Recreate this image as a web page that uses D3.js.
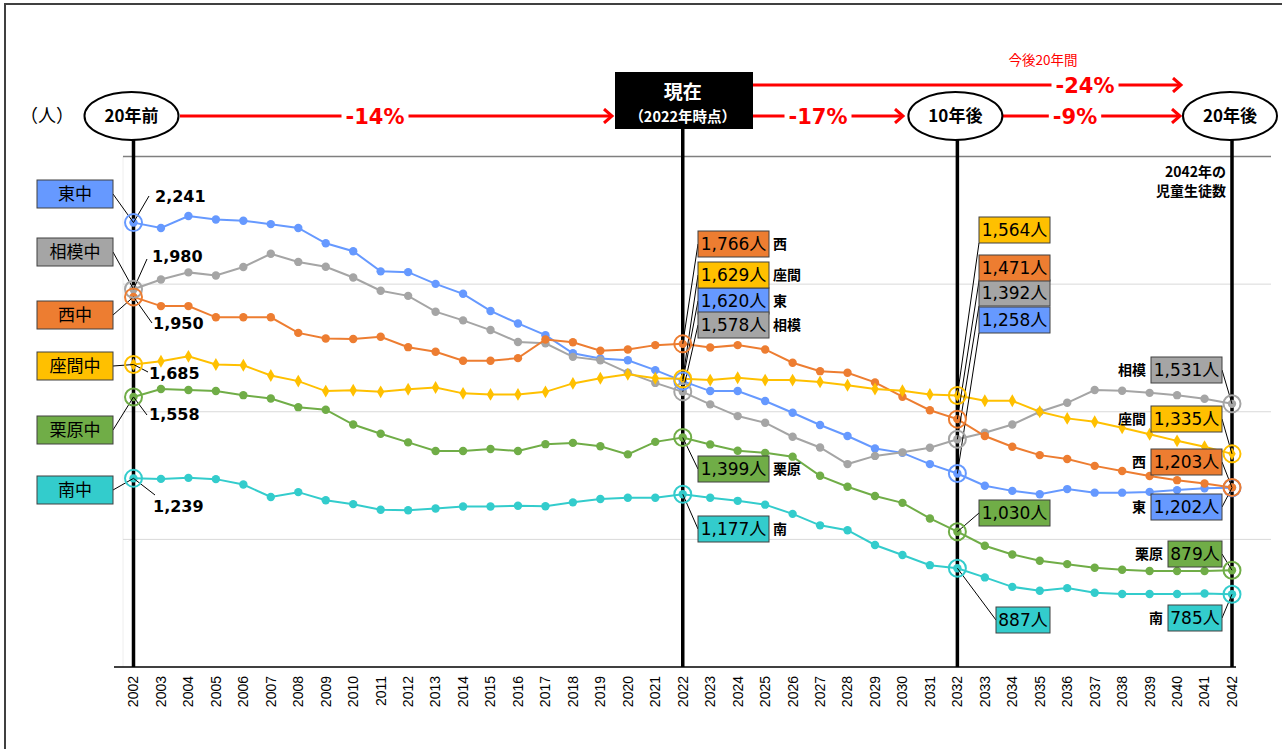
<!DOCTYPE html>
<html lang="ja">
<head>
  <meta charset="UTF-8">
  <title>児童生徒数の推移</title>
  <script src="https://d3js.org/d3.v7.min.js"></script>
  <style>
    body { margin: 0; background: #fff; }
    text { font-family: "Noto Sans CJK JP", sans-serif; }
    .num { font-family: "DejaVu Sans", "Noto Sans CJK JP", sans-serif; }
  </style>
</head>
<body>
  <svg id="chart" width="1282" height="749"></svg>
  <script>
    // data (2002 - 2042)
    const years = d3.range(2002, 2043);
    const higashi = [2241, 2220, 2267, 2253, 2248, 2235, 2220, 2160, 2129, 2050, 2047, 2001, 1962, 1895, 1846,
      1800, 1729, 1709, 1702, 1663, 1620, 1581, 1581, 1542, 1496, 1448, 1405, 1356, 1339, 1295, 1258,
      1210, 1190, 1177, 1197, 1183, 1183, 1186, 1193, 1200, 1202];
    const sagami = [1980, 2018, 2046, 2034, 2067, 2119, 2087, 2068, 2026, 1974, 1954, 1892, 1858, 1820, 1773,
      1768, 1715, 1702, 1653, 1613, 1578, 1529, 1483, 1457, 1402, 1360, 1295, 1327, 1341, 1359, 1392,
      1418, 1450, 1500, 1535, 1585, 1582, 1574, 1565, 1551, 1531];
    const nishi = [1950, 1914, 1914, 1870, 1870, 1870, 1809, 1787, 1785, 1794, 1753, 1735, 1700, 1700, 1710,
      1783, 1772, 1739, 1744, 1761, 1766, 1752, 1761, 1744, 1692, 1659, 1653, 1615, 1559, 1506, 1471,
      1405, 1363, 1330, 1315, 1288, 1268, 1248, 1232, 1219, 1203];
    const zama = [1685, 1698, 1717, 1685, 1682, 1642, 1620, 1581, 1584, 1578, 1588, 1595, 1572, 1568, 1568,
      1578, 1611, 1631, 1647, 1631, 1629, 1624, 1633, 1624, 1624, 1617, 1604, 1589, 1582, 1568, 1564,
      1543, 1543, 1500, 1474, 1461, 1437, 1412, 1386, 1363, 1335];
    const kurihara = [1558, 1589, 1585, 1581, 1565, 1552, 1518, 1508, 1450, 1414, 1380, 1346, 1346, 1354, 1346,
      1373, 1378, 1365, 1333, 1382, 1399, 1372, 1347, 1339, 1324, 1249, 1206, 1170, 1143, 1082, 1030,
      975, 941, 916, 903, 889, 881, 876, 876, 876, 879];
    const minami = [1239, 1237, 1241, 1236, 1215, 1166, 1185, 1153, 1138, 1116, 1114, 1121, 1129, 1129, 1132,
      1130, 1145, 1158, 1163, 1163, 1177, 1163, 1151, 1136, 1100, 1055, 1036, 978, 939, 899, 887,
      851, 814, 799, 809, 791, 786, 786, 786, 788, 785];

    const seriesValues = [higashi, sagami, nishi, zama, kurihara, minami];
    const schools = ['東中', '相模中', '西中', '座間中', '栗原中', '南中'];
    const shortNames = ['東', '相模', '西', '座間', '栗原', '南'];
    const colors = ['#6699ff', '#a5a5a5', '#ed7d31', '#ffc000', '#70ad47', '#33cccc'];
    const milestones = [2002, 2022, 2032, 2042];
    const milestoneLabels = ['20年前', '現在', '10年後', '20年後'];
    const changeLabels = ['-14%', '-17%', '-9%'];
    const totalLabel = '-24%';
    const gridValues = [2000, 1500, 1000];

    const svg = d3.select('svg#chart');
    const x = d3.scaleLinear().domain([2002, 2042]).range([133.5, 1232]);
    const y = d3.scaleLinear().domain([500, 2500]).range([667, 156.5]);
    const fmt = d3.format(',');
    const valueAt = (i, yr) => seriesValues[i][years.indexOf(yr)];

    // outer frame
    svg.append('rect')
      .attr('x', 5).attr('y', 4).attr('width', 1290).attr('height', 760)
      .attr('fill', 'none').attr('stroke', '#404040').attr('stroke-width', 2);

    // gridlines
    svg.append('line')
      .attr('x1', 123).attr('x2', 123).attr('y1', y(2500)).attr('y2', y(500))
      .attr('stroke', '#eeeeee');
    svg.selectAll('line.grid').data(gridValues).join('line')
      .attr('class', 'grid')
      .attr('x1', 123).attr('x2', 1271)
      .attr('y1', d => y(d)).attr('y2', d => y(d))
      .attr('stroke', '#d9d9d9').attr('stroke-width', 1);
    svg.append('line')
      .attr('x1', 123).attr('x2', 1271).attr('y1', y(2500)).attr('y2', y(2500))
      .attr('stroke', '#7f7f7f').attr('stroke-width', 1.5);

    // x axis
    svg.append('line')
      .attr('x1', 114).attr('x2', 1236).attr('y1', y(500)).attr('y2', y(500))
      .attr('stroke', '#000').attr('stroke-width', 1.5);
    svg.selectAll('text.year').data(years).join('text')
      .attr('class', 'year')
      .attr('transform', d => `translate(${x(d)},${y(500) + 9}) rotate(-90)`)
      .attr('dy', '0.35em')
      .attr('text-anchor', 'end')
      .style('font-family', '"Liberation Sans", Arial, sans-serif')
      .style('font-size', '14px')
      .text(d => d);

    // thick milestone lines
    svg.selectAll('line.mile').data(milestones).join('line')
      .attr('class', 'mile')
      .attr('x1', d => x(d)).attr('x2', d => x(d))
      .attr('y1', d => d === 2022 ? 128 : 140).attr('y2', y(500))
      .attr('stroke', '#000').attr('stroke-width', 3.5);

    // series lines and markers
    const line = d3.line().x((d, j) => x(years[j])).y(d => y(d));
    seriesValues.forEach((vals, i) => {
      svg.append('path')
        .attr('d', line(vals))
        .attr('fill', 'none')
        .attr('stroke', colors[i])
        .attr('stroke-width', 2);
      if (i === 3) {
        svg.selectAll(null).data(vals).join('path')
          .attr('d', d3.symbol(d3.symbolDiamond, 48))
          .attr('transform', (d, j) => `translate(${x(years[j])},${y(d)})`)
          .attr('fill', colors[i]);
      } else {
        svg.selectAll(null).data(vals).join('circle')
          .attr('cx', (d, j) => x(years[j]))
          .attr('cy', d => y(d))
          .attr('r', 4.2)
          .attr('fill', colors[i]);
      }
    });

    // leader line helper
    function leader(x1, y1, x2, y2) {
      svg.append('line')
        .attr('x1', x1).attr('y1', y1).attr('x2', x2).attr('y2', y2)
        .attr('stroke', '#000').attr('stroke-width', 1);
    }

    // 2002 : school boxes on the left and bold values
    const leftBoxTop = [180, 238, 301, 352, 416, 476];
    const leftValueEnd = [[149, 196], [147, 259], [152, 323], [148, 372], [147, 415], [155, 495]];
    const leftValueText = [[155, 202], [152, 262], [153, 329], [149, 379], [149, 420], [153, 512]];
    schools.forEach((s, i) => {
      const v = valueAt(i, 2002);
      leader(113, leftBoxTop[i] + 14, x(2002), y(v));
      leader(x(2002), y(v), leftValueEnd[i][0], leftValueEnd[i][1]);
      svg.append('rect')
        .attr('x', 37).attr('y', leftBoxTop[i]).attr('width', 76).attr('height', 28)
        .attr('fill', colors[i]).attr('stroke', '#404040').attr('stroke-width', 1);
      svg.append('text')
        .attr('x', 75).attr('y', leftBoxTop[i] + 20)
        .attr('text-anchor', 'middle')
        .style('font-size', '17px')
        .text(s);
      svg.append('text')
        .attr('class', 'num')
        .attr('x', leftValueText[i][0]).attr('y', leftValueText[i][1])
        .style('font-size', '16px').style('font-weight', 'bold')
        .text(fmt(v));
    });

    // callout boxes at 2022 / 2032 / 2042
    const boxH = 26;
    const boxW = v => v >= 1000 ? 71 : 54;
    const callout2022Top = [288, 312, 231, 262, 456, 516];
    const callout2032Top = [307, 280, 255, 217, 500, 607];
    const callout2042Top = [494, 357, 449, 406, 541, 605];

    function valueBox(bx, by, v, i) {
      svg.append('rect')
        .attr('x', bx).attr('y', by).attr('width', boxW(v)).attr('height', boxH)
        .attr('fill', colors[i]).attr('stroke', '#404040').attr('stroke-width', 1);
      svg.append('text')
        .attr('class', 'num')
        .attr('x', bx + boxW(v) / 2).attr('y', by + boxH / 2 + 6)
        .attr('text-anchor', 'middle')
        .style('font-size', '17px')
        .text(fmt(v) + '人');
    }

    schools.forEach((s, i) => {
      // 2022
      let v = valueAt(i, 2022);
      let top = callout2022Top[i];
      leader(698, top + 13, x(2022), y(v));
      // 2032
      v = valueAt(i, 2032);
      top = callout2032Top[i];
      let bx = 1050 - boxW(v);
      if (top < 400) leader(bx, top + boxH, x(2032), y(v));
      else leader(bx, top + 13, x(2032), y(v));
      // 2042
      v = valueAt(i, 2042);
      top = callout2042Top[i];
      leader(1222, top + 13, x(2042), y(v));
    });

    schools.forEach((s, i) => {
      let v = valueAt(i, 2022);
      valueBox(698, callout2022Top[i], v, i);
      svg.append('text')
        .attr('x', 773).attr('y', callout2022Top[i] + 18)
        .style('font-size', '14px').style('font-weight', 'bold')
        .text(shortNames[i]);

      v = valueAt(i, 2032);
      valueBox(1050 - boxW(v), callout2032Top[i], v, i);

      v = valueAt(i, 2042);
      const bx = 1222 - boxW(v);
      valueBox(bx, callout2042Top[i], v, i);
      svg.append('text')
        .attr('x', bx - 5).attr('y', callout2042Top[i] + 18)
        .attr('text-anchor', 'end')
        .style('font-size', '14px').style('font-weight', 'bold')
        .text(shortNames[i]);
    });

    // highlight rings on milestone years
    seriesValues.forEach((vals, i) => {
      svg.selectAll(null).data(milestones).join('circle')
        .attr('cx', d => x(d))
        .attr('cy', d => y(valueAt(i, d)))
        .attr('r', 8.5)
        .attr('fill', 'none')
        .attr('stroke', colors[i])
        .attr('stroke-width', 2);
    });

    // header: arrows, ellipses, current box
    svg.append('defs').append('marker')
      .attr('id', 'arr')
      .attr('markerUnits', 'userSpaceOnUse')
      .attr('markerWidth', 14).attr('markerHeight', 16)
      .attr('refX', 10).attr('refY', 8)
      .attr('orient', 'auto')
      .append('path')
      .attr('d', 'M2,1 L10,8 L2,15')
      .attr('fill', 'none').attr('stroke', '#ff0000').attr('stroke-width', 3);

    const arrowRow = [[180, 612, 375], [753, 903, 818], [1003, 1180, 1075]];
    function arrow(x1, x2, yy, lx, label) {
      svg.append('line')
        .attr('x1', x1).attr('x2', x2).attr('y1', yy).attr('y2', yy)
        .attr('stroke', '#ff0000').attr('stroke-width', 3)
        .attr('marker-end', 'url(#arr)');
      const t = svg.append('text')
        .attr('class', 'num')
        .attr('x', lx).attr('y', yy + 8)
        .attr('text-anchor', 'middle')
        .style('font-size', '21px').style('font-weight', 'bold')
        .attr('fill', '#ff0000')
        .text(label);
      const b = t.node().getBBox();
      svg.insert('rect', () => t.node())
        .attr('x', b.x - 4).attr('y', yy - 4).attr('width', b.width + 8).attr('height', 8)
        .attr('fill', '#fff');
    }
    changeLabels.forEach((c, k) => arrow(arrowRow[k][0], arrowRow[k][1], 116, arrowRow[k][2], c));
    arrow(753, 1181, 85, 1085, totalLabel);
    svg.append('text')
      .attr('x', 1043).attr('y', 65)
      .attr('text-anchor', 'middle')
      .attr('fill', '#ff0000')
      .style('font-size', '13.5px')
      .text('今後20年間');

    svg.append('text')
      .attr('x', 47).attr('y', 122)
      .attr('text-anchor', 'middle')
      .style('font-size', '18px')
      .text('（人）');

    milestones.forEach((m, k) => {
      if (m === 2022) {
        svg.append('rect')
          .attr('x', 615).attr('y', 72).attr('width', 138).attr('height', 57)
          .attr('fill', '#000');
        svg.append('text')
          .attr('x', x(m)).attr('y', 99)
          .attr('text-anchor', 'middle').attr('fill', '#fff')
          .style('font-size', '19px').style('font-weight', 'bold')
          .text(milestoneLabels[k]);
        svg.append('text')
          .attr('x', x(m)).attr('y', 122)
          .attr('text-anchor', 'middle').attr('fill', '#fff')
          .style('font-size', '14.5px').style('font-weight', 'bold')
          .text('（2022年時点）');
      } else {
        const cx = m === 2042 ? 1230 : x(m) - 2;
        svg.append('ellipse')
          .attr('cx', cx).attr('cy', 116).attr('rx', 47).attr('ry', 24)
          .attr('fill', '#fff').attr('stroke', '#000').attr('stroke-width', 2);
        svg.append('text')
          .attr('x', cx).attr('y', 122)
          .attr('text-anchor', 'middle')
          .style('font-size', '17px').style('font-weight', 'bold')
          .text(milestoneLabels[k]);
      }
    });

    svg.append('text')
      .attr('x', 1226).attr('y', 177)
      .attr('text-anchor', 'end')
      .style('font-size', '14px').style('font-weight', 'bold')
      .text('2042年の');
    svg.append('text')
      .attr('x', 1226).attr('y', 196)
      .attr('text-anchor', 'end')
      .style('font-size', '14px').style('font-weight', 'bold')
      .text('児童生徒数');
  </script>
</body>
</html>
